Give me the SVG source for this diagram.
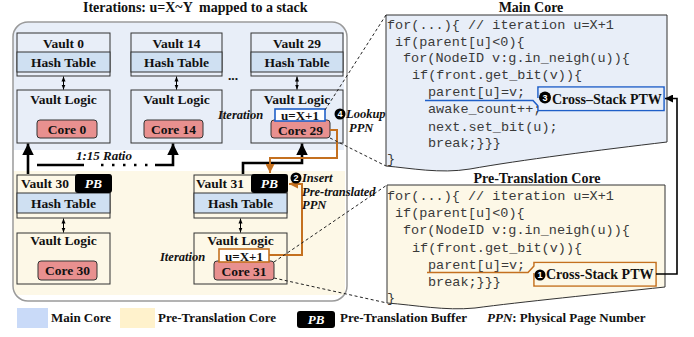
<svg xmlns="http://www.w3.org/2000/svg" width="694" height="337" viewBox="0 0 694 337">
<style>
.t{font-family:"Liberation Serif","Times New Roman",serif;font-weight:bold;font-size:13.5px;fill:#111}
.ti{font-family:"Liberation Serif","Times New Roman",serif;font-weight:bold;font-style:italic;font-size:12.5px;fill:#111}
.c{font-family:"Liberation Mono","Courier New",monospace;font-size:13.5px;fill:#3a3a3a}
.box{stroke:#333;stroke-width:1;}
.hash{fill:#cfe0f2;stroke:#333;stroke-width:1}
.core{fill:#e8908f;stroke:#333;stroke-width:1}
.blk{stroke:#000;stroke-width:2.6;fill:none}
.or{stroke:#c4701f;stroke-width:2;fill:none}
.dash{stroke:#222;stroke-width:1;stroke-dasharray:3 2.5;fill:none}
.thin{stroke:#000;stroke-width:1;fill:none}
.pb{fill:#000}
.pbt{font-family:"Liberation Serif","Times New Roman",serif;font-weight:bold;font-style:italic;font-size:13.5px;fill:#fff}
.num{font-family:"Liberation Sans",Arial,sans-serif;font-weight:bold;font-size:9px;fill:#fff}
</style>
<defs>
<marker id="big" viewBox="0 0 10 10" refX="10" refY="5" markerWidth="4.6" markerHeight="4.6" orient="auto" markerUnits="strokeWidth"><path d="M0,0 L10,5 L0,10 Z" fill="#000"/></marker>
<marker id="sm" viewBox="0 0 10 10" refX="10" refY="5" markerWidth="5" markerHeight="5" orient="auto-start-reverse" markerUnits="strokeWidth"><path d="M0,1 L10,5 L0,9 Z" fill="#000"/></marker>
<marker id="oa" viewBox="0 0 10 10" refX="10" refY="5" markerWidth="4.5" markerHeight="4.5" orient="auto" markerUnits="strokeWidth"><path d="M0,0 L10,5 L0,10 Z" fill="#c4701f"/></marker>
<marker id="ka" viewBox="0 0 10 10" refX="10" refY="5" markerWidth="5" markerHeight="5" orient="auto" markerUnits="strokeWidth"><path d="M0,0 L10,5 L0,10 Z" fill="#000"/></marker>
<clipPath id="outer"><rect x="13" y="22" width="334" height="279" rx="15"/></clipPath>
</defs>

<!-- title -->
<text class="t" x="83" y="12" style="font-size:14px">Iterations: u=X~Y</text>
<text class="t" x="199" y="12" style="font-size:14px">mapped to a stack</text>

<!-- stack container -->
<g id="stack">
<g clip-path="url(#outer)">
<rect x="13" y="22" width="331" height="128" fill="#e8eef8"/>
<rect x="13" y="171" width="332" height="124" fill="#fdf8e7"/>
</g>
<rect x="13" y="22" width="334" height="279" rx="15" fill="none" stroke="#9a9a9a" stroke-width="1.5"/>
</g>

<!-- top vaults -->
<g id="vault0">
<rect class="box" x="17" y="33" width="93" height="43" fill="#e8eef8"/>
<rect class="hash" x="17" y="52" width="93" height="20"/>
<text class="t" x="63.5" y="48" text-anchor="middle">Vault 0</text>
<text class="t" x="63.5" y="67" text-anchor="middle">Hash Table</text>
<rect class="box" x="17" y="90" width="93" height="53" fill="#e8eef8"/>
<text class="t" x="63.5" y="104" text-anchor="middle">Vault Logic</text>
<rect class="core" x="37" y="120" width="60" height="18" rx="3"/>
<text class="t" x="67" y="134" text-anchor="middle">Core 0</text>
</g>
<g id="vault14">
<rect class="box" x="131" y="33" width="91" height="43" fill="#e8eef8"/>
<rect class="hash" x="131" y="52" width="91" height="20"/>
<text class="t" x="176.5" y="48" text-anchor="middle">Vault 14</text>
<text class="t" x="176.5" y="67" text-anchor="middle">Hash Table</text>
<rect class="box" x="131" y="90" width="91" height="53" fill="#e8eef8"/>
<text class="t" x="176.5" y="104" text-anchor="middle">Vault Logic</text>
<rect class="core" x="144" y="120" width="59" height="18" rx="3"/>
<text class="t" x="173.5" y="134" text-anchor="middle">Core 14</text>
</g>
<text class="t" x="233" y="80" text-anchor="middle">...</text>
<g id="vault29">
<rect class="box" x="251" y="33" width="92" height="43" fill="#e8eef8"/>
<rect class="hash" x="251" y="52" width="92" height="20"/>
<text class="t" x="297" y="48" text-anchor="middle">Vault 29</text>
<text class="t" x="297" y="67" text-anchor="middle">Hash Table</text>
<rect class="box" x="251" y="90" width="92" height="53" fill="#e8eef8"/>
<text class="t" x="297" y="104" text-anchor="middle">Vault Logic</text>
<rect class="core" x="271" y="120" width="59" height="18" rx="3"/>
<text class="t" x="300.5" y="135" text-anchor="middle">Core 29</text>
<rect x="275" y="109" width="50" height="12" fill="#fff" stroke="#1f5fc8" stroke-width="1.6"/>
<text class="t" x="300" y="120" text-anchor="middle" style="font-size:13px">u=X+1</text>
<text class="ti" x="218" y="119">Iteration</text>
</g>

<!-- bottom vaults -->
<g id="vault30">
<rect class="box" x="17" y="175" width="93" height="43" fill="#fdf8e7"/>
<rect class="hash" x="17" y="193" width="93" height="20"/>
<rect class="pb" x="75" y="174" width="37" height="19" rx="3"/>
<text class="pbt" x="93.5" y="188" text-anchor="middle">PB</text>
<text class="t" x="21" y="188">Vault 30</text>
<text class="t" x="63.5" y="208" text-anchor="middle">Hash Table</text>
<rect class="box" x="17" y="233" width="93" height="51" fill="#fdf8e7"/>
<text class="t" x="63.5" y="245" text-anchor="middle">Vault Logic</text>
<rect class="core" x="38" y="261" width="59" height="19" rx="3"/>
<text class="t" x="67.5" y="275" text-anchor="middle">Core 30</text>
</g>
<g id="vault31">
<rect class="box" x="194" y="175" width="93" height="43" fill="#fdf8e7"/>
<rect class="hash" x="194" y="193" width="93" height="20"/>
<rect class="pb" x="251" y="174" width="37" height="19" rx="3"/>
<text class="pbt" x="269.5" y="188" text-anchor="middle">PB</text>
<text class="t" x="196" y="188">Vault 31</text>
<text class="t" x="240.5" y="208" text-anchor="middle">Hash Table</text>
<rect class="box" x="194" y="233" width="93" height="51" fill="#fdf8e7"/>
<text class="t" x="240.5" y="245" text-anchor="middle">Vault Logic</text>
<rect class="core" x="214" y="261" width="60" height="19" rx="3"/>
<text class="t" x="244" y="275.5" text-anchor="middle">Core 31</text>
<rect x="219" y="249" width="50" height="13" fill="#fff" stroke="#c4701f" stroke-width="1.6"/>
<text class="t" x="244" y="260.5" text-anchor="middle" style="font-size:13px">u=X+1</text>
<text class="ti" x="160" y="261">Iteration</text>
</g>

<!-- main core code -->
<g id="maincore">
<text class="t" x="531" y="12" text-anchor="middle" style="font-size:14px">Main Core</text>
<path d="M386,15 H667 V142 C600,150 520,160 470,169 C440,174 410,168 386,166 Z" fill="#e8eef8" stroke="#333" stroke-width="1"/>
<text class="c" x="387" y="28.5">for(...){ // iteration u=X+1</text>
<text class="c" x="395" y="45.5">if(parent[u]&lt;0){</text>
<text class="c" x="403" y="62">for(NodeID v:g.in_neigh(u)){</text>
<text class="c" x="412" y="79">if(front.get_bit(v)){</text>
<text class="c" x="428" y="96">parent[u]=v;</text>
<text class="c" x="428" y="113">awake_count++;</text>
<text class="c" x="428" y="130.5">next.set_bit(u);</text>
<text class="c" x="428" y="147">break;}}}</text>
<text class="c" x="387" y="163">}</text>
<path d="M425,100.5 H533 L538,106 V110.5 H664 V87 H538 V98" fill="none" stroke="#1f5fc8" stroke-width="1.6"/>
<rect x="538.8" y="87.8" width="124.4" height="21.9" fill="#e8eef8"/>
<circle cx="545" cy="97.5" r="6" fill="#000"/>
<text class="num" x="545" y="101" text-anchor="middle">3</text>
<text class="t" x="552" y="104" style="font-size:14px">Cross–Stack PTW</text>
</g>

<!-- pre-translation core code -->
<g id="pretranscore">
<text class="t" x="537" y="183" text-anchor="middle" style="font-size:14px">Pre-Translation Core</text>
<path d="M387,185 H665 V287 C600,294 520,302 475,308 C445,311 415,305 387,303 Z" fill="#fdf8e7" stroke="#333" stroke-width="1"/>
<text class="c" x="387" y="200">for(...){ // iteration u=X+1</text>
<text class="c" x="395" y="217">if(parent[u]&lt;0){</text>
<text class="c" x="403" y="234">for(NodeID v:g.in_neigh(u)){</text>
<text class="c" x="412" y="251.5">if(front.get_bit(v)){</text>
<text class="c" x="428" y="268.5">parent[u]=v;</text>
<text class="c" x="428" y="286">break;}}}</text>
<text class="c" x="387" y="302">}</text>
<path d="M427,272.5 H528 L534,266 V262.5 H656 V286 H534 V273" fill="none" stroke="#c4701f" stroke-width="1.6"/>
<rect x="534.8" y="263.3" width="120.4" height="21.9" fill="#fdf8e7"/>
<circle cx="540" cy="275" r="5.5" fill="#000"/>
<text class="num" x="540" y="278.3" text-anchor="middle">1</text>
<text class="t" x="546" y="279" style="font-size:14px">Cross-Stack PTW</text>
</g>

<!-- connectors -->
<g id="connectors">
<line class="thin" x1="63.5" y1="76.5" x2="63.5" y2="89.5" marker-start="url(#sm)" marker-end="url(#sm)"/>
<line class="thin" x1="176.5" y1="76.5" x2="176.5" y2="89.5" marker-start="url(#sm)" marker-end="url(#sm)"/>
<line class="thin" x1="297" y1="76.5" x2="297" y2="89.5" marker-start="url(#sm)" marker-end="url(#sm)"/>
<line class="thin" x1="63.5" y1="218.5" x2="63.5" y2="232.5" marker-start="url(#sm)" marker-end="url(#sm)"/>
<line class="thin" x1="240.5" y1="218.5" x2="240.5" y2="232.5" marker-start="url(#sm)" marker-end="url(#sm)"/>

<path class="blk" d="M28,174 V143.5" marker-end="url(#big)"/>
<path class="blk" d="M37,165 H84"/>
<path d="M101,165 H150" stroke="#000" stroke-width="2.6" stroke-dasharray="2.5 8.5" fill="none"/>
<path class="blk" d="M155,165 H173 V143.5" marker-end="url(#big)"/>
<path class="blk" d="M243,174 V163 H302 V143.5" marker-end="url(#big)"/>
<text class="ti" x="76" y="160" style="font-size:13px">1:15 Ratio</text>

<path class="or" d="M330,130 H337 V158 H270 V173" marker-end="url(#oa)"/>
<path class="or" d="M269,255 H302 V184 H289" marker-end="url(#oa)"/>

<path d="M656,274 H677 V98.5 H665" stroke="#000" stroke-width="1.6" fill="none" marker-end="url(#ka)"/>

<line class="dash" x1="325" y1="110" x2="386" y2="15"/>
<line class="dash" x1="330" y1="138" x2="386" y2="166"/>
<line class="dash" x1="274" y1="262" x2="387" y2="185"/>
<line class="dash" x1="274" y1="278" x2="387" y2="303"/>

<circle cx="296" cy="178" r="5.5" fill="#000"/>
<text class="num" x="296" y="181.3" text-anchor="middle">2</text>
<text class="ti" x="302" y="182">Insert</text>
<text class="ti" x="302" y="196">Pre-translated</text>
<text class="ti" x="302" y="209">PPN</text>

<circle cx="340" cy="114" r="5.5" fill="#000"/>
<text class="num" x="340" y="117.3" text-anchor="middle">4</text>
<text class="ti" x="346" y="118">Lookup</text>
<text class="ti" x="349" y="132">PPN</text>
</g>

<!-- legend -->
<g id="legend">
<rect x="17" y="308" width="31" height="20" fill="#c9daf8"/>
<text class="t" x="51" y="322" style="font-size:13px">Main Core</text>
<rect x="120" y="308" width="35" height="20" fill="#fff2cc"/>
<text class="t" x="158" y="322" style="font-size:13px">Pre-Translation Core</text>
<rect class="pb" x="297" y="311" width="38" height="17" rx="3"/>
<text class="pbt" x="316" y="324" text-anchor="middle" style="font-size:13px">PB</text>
<text class="t" x="340" y="322" style="font-size:13px">Pre-Translation Buffer</text>
<text class="t" x="487" y="322" style="font-size:13px"><tspan font-style="italic">PPN</tspan>: Physical Page Number</text>
</g>
</svg>
